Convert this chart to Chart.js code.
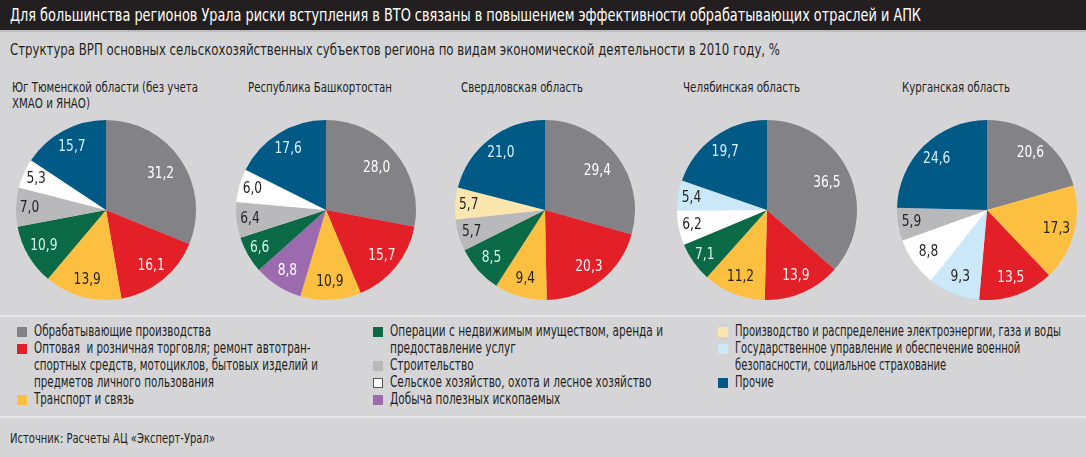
<!DOCTYPE html>
<html lang="ru">
<head>
<meta charset="utf-8">
<script src="https://cdn.jsdelivr.net/npm/chart.js@4/dist/chart.umd.min.js"></script>
<style>
  html, body { margin: 0; padding: 0; }
  body {
    width: 1086px; height: 457px; position: relative; overflow: hidden;
    background: #d5d5d7; color: #231f20;
    font-family: "DejaVu Sans Condensed", "Liberation Sans Narrow", sans-serif;
  }
  #titleBar {
    position: absolute; left: 0; top: 0; width: 1086px; height: 30px;
    background: #231f20; border-bottom: 2px solid #bdbdbf;
  }
  .fit { display: inline-block; transform-origin: 0 0; white-space: pre; }
  #title { position: absolute; left: 10px; top: 5px; font-size: 17px; color: #fff; }
  #subtitle { position: absolute; left: 10px; top: 40px; font-size: 16px; }
  .region { position: absolute; top: 79px; font-size: 14px; line-height: 16px; }
  canvas.pie { position: absolute; }
  .rule { position: absolute; left: 0; width: 1086px; height: 2px; background: #e6e6e8; }
  .legcol { position: absolute; top: 323px; font-size: 15px; line-height: 17px; }
  .item { position: relative; padding-left: 17px; }
  .item i { position: absolute; left: 0; top: 4px; width: 10px; height: 10px; box-sizing: border-box; }
  #source { position: absolute; left: 10px; top: 430px; font-size: 14px; }
</style>
</head>
<body>
<div id="titleBar"><span id="title" class="fit"></span></div>
<span id="subtitle" class="fit"></span>
<div class="rule" style="top:315px"></div>
<div class="rule" style="top:416px"></div>
<span id="source" class="fit"></span>

<script>
// === ТЕКСТЫ ===
const mainTitle = "Для большинства регионов Урала риски вступления в ВТО связаны в повышением эффективности обрабатывающих отраслей и АПК";
const subTitle = "Структура ВРП основных сельскохозяйственных субъектов региона по видам экономической деятельности в 2010 году, %";
const sourceText = "Источник: Расчеты АЦ «Эксперт-Урал»";

// === КАТЕГОРИИ ===
const categories = [
  "Обрабатывающие производства",
  "Оптовая  и розничная торговля; ремонт автотран-\nспортных средств, мотоциклов, бытовых изделий и\nпредметов личного пользования",
  "Транспорт и связь",
  "Операции с недвижимым имуществом, аренда и\nпредоставление услуг",
  "Строительство",
  "Сельское хозяйство, охота и лесное хозяйство",
  "Добыча полезных ископаемых",
  "Производство и распределение электроэнергии, газа и воды",
  "Государственное управление и обеспечение военной\nбезопасности, социальное страхование",
  "Прочие"
];
const catColors = ["#838286", "#e31f28", "#fdbf40", "#0a6a46", "#b9b9bb", "#ffffff", "#9c6baf", "#fbe6ae", "#cbe8f8", "#005a85"];
const labelColors = ["#ffffff", "#fff2f2", "#231f20", "#d8f4ea", "#231f20", "#231f20", "#ffffff", "#231f20", "#231f20", "#d5f1fc"];
const legendColumns = [[0, 1, 2], [3, 4, 5, 6], [7, 8, 9]];

// === РЕГИОНЫ (по часовой стрелке от 12 часов) ===
const regionNames = [
  "Юг Тюменской области (без учета\nХМАО и ЯНАО)",
  "Республика Башкортостан",
  "Свердловская область",
  "Челябинская область",
  "Курганская область"
];
const tyumenCats = [0, 1, 2, 3, 4, 5, 9];
const tyumenValues = [31.2, 16.1, 13.9, 10.9, 7.0, 5.3, 15.7];
const bashCats = [0, 1, 2, 6, 3, 4, 5, 9];
const bashValues = [28.0, 15.7, 10.9, 8.8, 6.6, 6.4, 6.0, 17.6];
const sverdCats = [0, 1, 2, 3, 4, 7, 9];
const sverdValues = [29.4, 20.3, 9.4, 8.5, 5.7, 5.7, 21.0];
const chelCats = [0, 1, 2, 3, 5, 8, 9];
const chelValues = [36.5, 13.9, 11.2, 7.1, 6.2, 5.4, 19.7];
const kurganCats = [0, 2, 1, 8, 5, 4, 9];
const kurganValues = [20.6, 17.3, 13.5, 9.3, 8.8, 5.9, 24.6];

const regionCats = [tyumenCats, bashCats, sverdCats, chelCats, kurganCats];
const regionValues = [tyumenValues, bashValues, sverdValues, chelValues, kurganValues];

const pieCenters = [[106, 210], [326, 210], [545, 210], [767, 210], [987, 210]];
const pieRadius = 90;
const titleX = [12, 248, 461, 683, 902];
const titleW = [186, 144, 122, 117, 108];
const legendX = [17, 373, 718];
const legendW = [284, 273, 326];

// сжимаем текст по ширине (шрифт оригинала узкий)
function fitWidth(el, w) {
  el.style.transform = "";
  const k = w / el.getBoundingClientRect().width;
  el.style.transform = `scaleX(${k})`;
}

document.getElementById("title").textContent = mainTitle;
document.getElementById("subtitle").textContent = subTitle;
document.getElementById("source").textContent = sourceText;
fitWidth(document.getElementById("title"), 911);
fitWidth(document.getElementById("subtitle"), 770);
fitWidth(document.getElementById("source"), 205);

// === ПОДПИСИ ВНУТРИ СЕКТОРОВ ===
const sliceLabels = {
  id: "sliceLabels",
  afterDatasetsDraw(chart) {
    const ctx = chart.ctx;
    const ds = chart.data.datasets[0];
    chart.getDatasetMeta(0).data.forEach((arc, i) => {
      const v = ds.data[i];
      const a = (arc.startAngle + arc.endAngle) / 2;
      const f = v > 25 ? 0.73 : v < 8 ? 0.85 : 0.8;
      const x = arc.x + Math.cos(a) * arc.outerRadius * f;
      const y = arc.y + Math.sin(a) * arc.outerRadius * f;
      ctx.save();
      ctx.translate(x, y);
      ctx.scale(0.85, 1);
      ctx.font = "16px 'DejaVu Sans Condensed', sans-serif";
      ctx.fillStyle = ds.labelColors[i];
      ctx.textAlign = "center";
      ctx.textBaseline = "middle";
      ctx.fillText(v.toFixed(1).replace(".", ","), 0, 0);
      ctx.restore();
    });
  }
};

regionNames.forEach((name, r) => {
  const t = document.createElement("span");
  t.className = "region fit";
  t.style.left = titleX[r] + "px";
  t.textContent = name;
  document.body.appendChild(t);
  // ширина по самой длинной строке
  fitWidth(t, titleW[r]);

  const cv = document.createElement("canvas");
  cv.className = "pie";
  cv.width = pieRadius * 2 + 4;
  cv.height = pieRadius * 2 + 4;
  cv.style.left = (pieCenters[r][0] - pieRadius - 2) + "px";
  cv.style.top = (pieCenters[r][1] - pieRadius - 2) + "px";
  document.body.appendChild(cv);

  const cats = regionCats[r];
  new Chart(cv, {
    type: "pie",
    data: {
      labels: cats.map(c => categories[c]),
      datasets: [{
        data: regionValues[r],
        backgroundColor: cats.map(c => catColors[c]),
        labelColors: cats.map(c => labelColors[c]),
        borderWidth: 0
      }]
    },
    options: {
      responsive: false,
      animation: false,
      layout: {padding: 2},
      plugins: {legend: {display: false}, tooltip: {enabled: false}}
    },
    plugins: [sliceLabels]
  });
});

// === ЛЕГЕНДА ===
legendColumns.forEach((col, k) => {
  const div = document.createElement("div");
  div.className = "legcol";
  div.style.left = legendX[k] + "px";
  const spans = [];
  col.forEach(c => {
    const it = document.createElement("div");
    it.className = "item";
    const sw = document.createElement("i");
    sw.style.background = catColors[c];
    if (c === 5) sw.style.border = "1px solid #555";
    it.appendChild(sw);
    const sp = document.createElement("span");
    sp.className = "fit";
    sp.textContent = categories[c];
    it.appendChild(sp);
    spans.push(sp);
    div.appendChild(it);
  });
  document.body.appendChild(div);
  const maxW = Math.max(...spans.map(s => s.getBoundingClientRect().width));
  spans.forEach(s => s.style.transform = `scaleX(${legendW[k] / maxW})`);
});
</script>
</body>
</html>
